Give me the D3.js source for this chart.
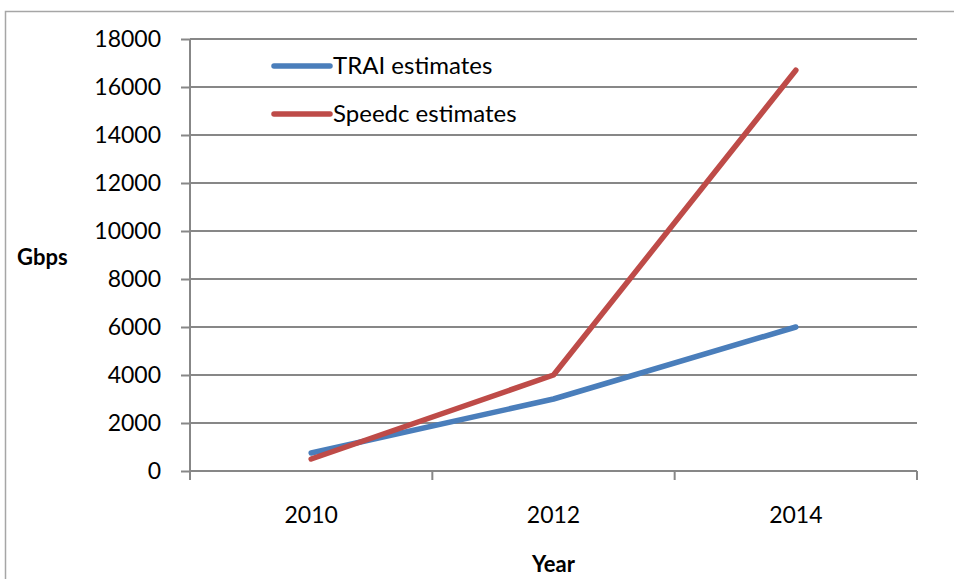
<!DOCTYPE html>
<html>
<head>
<meta charset="utf-8">
<script src="https://cdn.jsdelivr.net/npm/d3@7"></script>
<style>
  html, body { margin: 0; padding: 0; background: #fff; }
  svg { display: block; }
  text { font-family: Lato, "Open Sans", sans-serif; fill: #000; }
</style>
</head>
<body>
<svg id="chart" width="954" height="579"></svg>
<script>
// Bandwidth estimates (Gbps) by year
const years = ["2010", "2012", "2014"];
const traiValues = [750, 3000, 6000];
const speedcValues = [500, 4000, 16700];
const yTicks = [0, 2000, 4000, 6000, 8000, 10000, 12000, 14000, 16000, 18000];
const seriesNames = ["TRAI estimates", "Speedc estimates"];
const seriesColors = ["#4A7EBB", "#BE4B48"];

const series = [
  { name: seriesNames[0], color: seriesColors[0], values: traiValues },
  { name: seriesNames[1], color: seriesColors[1], values: speedcValues }
];

const svg = d3.select("#chart");
const plot = { left: 190, right: 917, top: 39, bottom: 471 };

// outer chart frame
svg.append("rect")
  .attr("x", 5.5).attr("y", 11.5)
  .attr("width", 970).attr("height", 600)
  .attr("fill", "none")
  .attr("stroke", "#a6a6a6")
  .attr("stroke-width", 1.5);

const x = d3.scaleBand().domain(years).range([plot.left, plot.right]).padding(0);
const y = d3.scaleLinear().domain([0, 18000]).range([plot.bottom, plot.top]);

// horizontal gridlines
svg.append("g")
  .selectAll("line")
  .data(yTicks)
  .join("line")
  .attr("x1", plot.left).attr("x2", plot.right)
  .attr("y1", d => y(d)).attr("y2", d => y(d))
  .attr("stroke", "#878787")
  .attr("stroke-width", 2);

// y axis
const yAxis = svg.append("g")
  .attr("transform", `translate(${plot.left},0)`)
  .call(d3.axisLeft(y).tickValues(yTicks).tickSize(9).tickPadding(20).tickFormat(d3.format("d")));
yAxis.select(".domain").attr("stroke", "#878787").attr("stroke-width", 2)
  .attr("d", `M0,${plot.top}V${plot.bottom + 9}`);
yAxis.selectAll(".tick line").attr("stroke", "#878787").attr("stroke-width", 2);
yAxis.selectAll(".tick text").style("font-size", "23px").style("font-family", "Lato, sans-serif").attr("fill", "#000");

// x axis: tick marks at band edges, labels at band centres
const xAxis = svg.append("g").attr("transform", `translate(0,${plot.bottom})`);
xAxis.append("line")
  .attr("x1", plot.left).attr("x2", plot.right)
  .attr("stroke", "#878787").attr("stroke-width", 2);
const edges = years.map(d => x(d)).concat([x(years[years.length - 1]) + x.bandwidth()]);
xAxis.selectAll("line.edge")
  .data(edges)
  .join("line")
  .attr("class", "edge")
  .attr("x1", d => d).attr("x2", d => d)
  .attr("y1", 0).attr("y2", 9)
  .attr("stroke", "#878787").attr("stroke-width", 2);
xAxis.selectAll("text.cat")
  .data(years)
  .join("text")
  .attr("class", "cat")
  .attr("x", d => x(d) + x.bandwidth() / 2)
  .attr("y", 52)
  .attr("text-anchor", "middle")
  .style("font-size", "23px")
  .text(d => d);

// axis titles
svg.append("text")
  .attr("x", 17).attr("y", 265)
  .style("font-size", "22px").style("font-weight", "bold")
  .text("Gbps");
svg.append("text")
  .attr("x", (plot.left + plot.right) / 2).attr("y", 572)
  .attr("text-anchor", "middle")
  .style("font-size", "22px").style("font-weight", "bold")
  .text("Year");

// series lines
const line = d3.line()
  .x((d, i) => x(years[i]) + x.bandwidth() / 2)
  .y(d => y(d));

svg.append("g")
  .selectAll("path")
  .data(series)
  .join("path")
  .attr("d", d => line(d.values))
  .attr("fill", "none")
  .attr("stroke", d => d.color)
  .attr("stroke-width", 5.5)
  .attr("stroke-linecap", "round")
  .attr("stroke-linejoin", "round");

// legend
const legend = svg.append("g")
  .selectAll("g")
  .data(series)
  .join("g")
  .attr("transform", (d, i) => `translate(274,${66 + i * 48})`);
legend.append("line")
  .attr("x1", 0).attr("x2", 56)
  .attr("stroke", d => d.color)
  .attr("stroke-width", 5.5)
  .attr("stroke-linecap", "round");
legend.append("text")
  .attr("x", 59).attr("y", 0)
  .attr("dy", "0.35em")
  .style("font-size", "24px")
  .text(d => d.name);
</script>
</body>
</html>
